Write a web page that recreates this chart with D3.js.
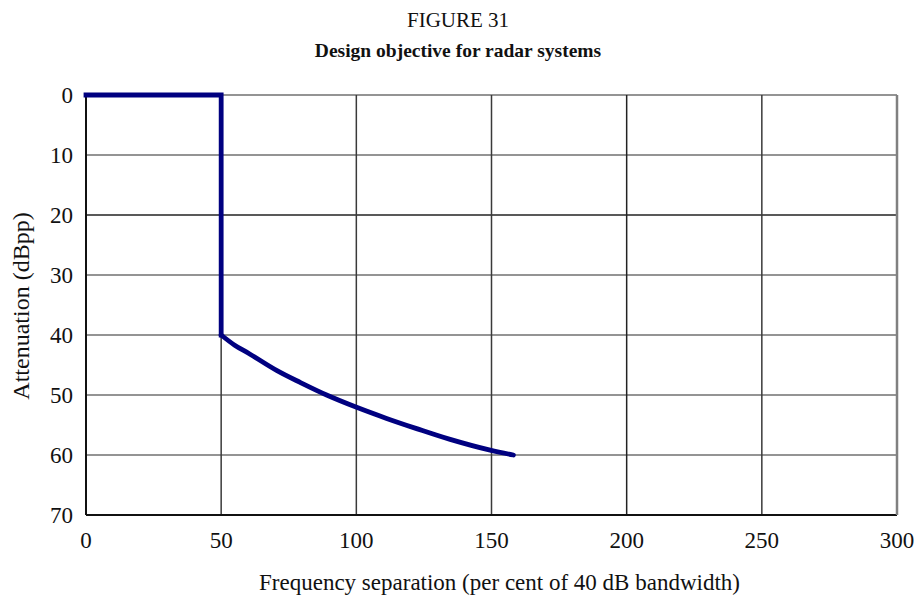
<!DOCTYPE html>
<html><head><meta charset="utf-8">
<script src="https://cdn.jsdelivr.net/npm/d3@7"></script>
<style>body{margin:0;background:#fff}svg{display:block}text{font-family:"Liberation Serif","Times New Roman",serif;fill:#111}</style>
</head><body>
<svg id="c" width="917" height="599"></svg>
<script>
const xTicks = [0, 50, 100, 150, 200, 250, 300];
const yTicks = [0, 10, 20, 30, 40, 50, 60, 70];
// step portion of the mask
const stepFreq  = [0, 50, 50];
const stepAtten = [0, 0, 40];
// sloped portion of the mask
const slopeFreq  = [50, 55, 60.7, 70.5, 79.2, 89.0, 100.1, 111.2, 122.3, 134.7, 149.5, 158.1];
const slopeAtten = [40, 41.7, 43.2, 45.9, 47.9, 50.0, 52.05, 53.9, 55.6, 57.4, 59.2, 60];
const title1 = "FIGURE 31";
const title2 = "Design objective for radar systems";
const xLabel = "Frequency separation (per cent of 40 dB bandwidth)";
const yLabel = "Attenuation (dBpp)";

const svg = d3.select("#c");
const m = {l:86, r:897, t:95, b:515};
const x = d3.scaleLinear().domain([0,300]).range([m.l, m.r]);
const y = d3.scaleLinear().domain([0,70]).range([m.t, m.b]);

svg.append("text").attr("x",458).attr("y",27).attr("text-anchor","middle").attr("font-size",21).text(title1);
svg.append("text").attr("x",458).attr("y",57).attr("text-anchor","middle").attr("font-size",19.5).attr("font-weight","bold").text(title2);

// grid
const g = svg.append("g");
g.selectAll("line.h").data(yTicks).join("line")
  .attr("x1",m.l).attr("x2",m.r).attr("y1",d=>y(d)).attr("y2",d=>y(d))
  .attr("stroke",d=>(d===20?"#222":"#707070")).attr("stroke-width",1.5);
g.selectAll("line.v").data(xTicks).join("line")
  .attr("y1",m.t).attr("y2",m.b).attr("x1",d=>x(d)).attr("x2",d=>x(d))
  .attr("stroke",d=>(d===200?"#222":"#3a3a3a")).attr("stroke-width",1.5);
// frame
svg.append("line").attr("x1",m.l).attr("x2",m.l).attr("y1",m.t).attr("y2",m.b).attr("stroke","#111").attr("stroke-width",2);
svg.append("line").attr("x1",m.l).attr("x2",m.r).attr("y1",m.b).attr("y2",m.b).attr("stroke","#111").attr("stroke-width",2);
svg.append("line").attr("x1",m.r).attr("x2",m.r).attr("y1",m.t).attr("y2",m.b).attr("stroke","#808080").attr("stroke-width",2.5);

// tick labels
svg.selectAll("text.yt").data(yTicks).join("text").attr("class","yt")
  .attr("x",m.l-13).attr("y",d=>y(d)).attr("dy","0.35em").attr("text-anchor","end").attr("font-size",23).text(d=>d);
svg.selectAll("text.xt").data(xTicks).join("text").attr("class","xt")
  .attr("x",d=>x(d)).attr("y",548).attr("text-anchor","middle").attr("font-size",23).text(d=>d);

svg.append("text").attr("x",(m.l+m.r)/2 + 8).attr("y",590).attr("text-anchor","middle").attr("font-size",23).text(xLabel);
svg.append("text").attr("transform","translate(29,306) rotate(-90)").attr("text-anchor","middle").attr("font-size",24).text(yLabel);

// mask line
const line = d3.line().x(d=>x(d[0])).y(d=>y(d[1]));
const stepPts = stepFreq.map((f,i)=>[f, stepAtten[i]]);
const slopePts = slopeFreq.map((f,i)=>[f, slopeAtten[i]]);
const stroke = "#000080";
svg.append("path").datum(stepPts).attr("d", line)
  .attr("fill","none").attr("stroke",stroke).attr("stroke-width",4.8).attr("stroke-linejoin","miter").attr("stroke-linecap","square");
svg.append("path").datum(slopePts).attr("d", line.curve(d3.curveCatmullRom.alpha(0.5)))
  .attr("fill","none").attr("stroke",stroke).attr("stroke-width",4.8).attr("stroke-linejoin","round").attr("stroke-linecap","round");
</script>
</body></html>
